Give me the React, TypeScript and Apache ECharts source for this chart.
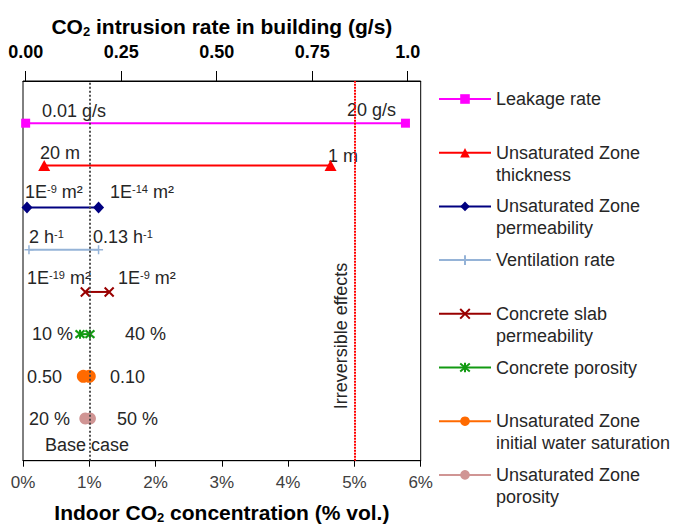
import React, { useEffect, useRef } from 'react';
import * as echarts from 'echarts';

const FONT = 'Liberation Sans, Arial, sans-serif';

// ---- data ----
const parameters = [
  'Leakage rate',
  'Unsaturated Zone\nthickness',
  'Unsaturated Zone\npermeability',
  'Ventilation rate',
  'Concrete slab\npermeability',
  'Concrete porosity',
  'Unsaturated Zone\ninitial water saturation',
  'Unsaturated Zone\nporosity',
];
const rowPositions = [8, 7, 6, 5, 4, 3, 2, 1];
const lowEndConcentration = [0.04, 0.32, 0.06, 0.09, 0.94, 0.86, 0.91, 0.94];
const highEndConcentration = [5.77, 4.64, 1.14, 1.14, 1.3, 1.01, 1.0, 1.01];
const lowEndLabels = ['0.01 g/s', '20 m', '1E{s|-9} m²', '2 h{s|-1}', '1E{s|-19} m²', '10 %', '0.50', '20 %'];
const highEndLabels = ['20 g/s', '1 m', '1E{s|-14} m²', '0.13 h{s|-1}', '1E{s|-9} m²', '40 %', '0.10', '50 %'];
const baseCaseConcentration = 1;
const irreversibleThreshold = 5;
const topTickValues = [0, 0.25, 0.5, 0.75, 1];
const topTickLabels = ['0.00', '0.25', '0.50', '0.75', '1.0'];

// ---- styles / layout ----
const seriesStyles = [
  { color: '#FF00FF', symbol: 'rect', size: 9, stroke: 0 },
  { color: '#FF0000', symbol: 'triangle', size: [12, 11], stroke: 0 },
  { color: '#000080', symbol: 'diamond', size: [11, 12], stroke: 0 },
  { color: '#95B3D7', symbol: 'path://M5,0L5,10M0,5L10,5', size: 9, stroke: 1.5 },
  { color: '#990000', symbol: 'path://M0,0L10,10M10,0L0,10', size: 9, stroke: 2 },
  { color: '#129A12', symbol: 'path://M0,0L10,10M10,0L0,10M5,-1L5,11', size: 9, stroke: 2 },
  { color: '#FF6A00', symbol: 'circle', size: 13, stroke: 0 },
  { color: '#D09594', symbol: 'circle', size: 12, stroke: 0 },
];
// pixel anchors (left x, centre y) of the annotation texts
const lowLabelPos = [[42, 111], [40, 153], [25, 192], [29, 237], [27, 278], [32, 334], [27, 377], [29, 419]];
const highLabelPos = [[347, 110], [328, 156], [110, 192], [93, 237], [118, 278], [125, 334], [110, 377], [117, 419]];

const TEXT_COLOR = '#262626';

function annotation(text: string, x: number, y: number) {
  return {
    type: 'text',
    x,
    y,
    silent: true,
    style: {
      text,
      fill: TEXT_COLOR,
      fontSize: 18,
      fontFamily: FONT,
      align: 'left',
      verticalAlign: 'middle',
      rich: {
        s: { fontSize: 11, fontFamily: FONT, fill: TEXT_COLOR, verticalAlign: 'top' },
      },
    },
  };
}

const titleRich = {
  t: { fontSize: 21, fontWeight: 'bold', color: '#000', fontFamily: FONT, lineHeight: 23 },
  sub: { fontSize: 13, fontWeight: 'bold', color: '#000', fontFamily: FONT, verticalAlign: 'bottom' },
};

export default function App() {
  const ref = useRef<HTMLDivElement>(null);

  useEffect(() => {
    if (!ref.current) return;
    const chart = echarts.init(ref.current, null, { renderer: 'svg' });

    const series: any[] = parameters.map((name, i) => {
      const st = seriesStyles[i];
      return {
        type: 'line',
        name,
        xAxisIndex: 0,
        yAxisIndex: 0,
        data: [
          [lowEndConcentration[i], rowPositions[i]],
          [highEndConcentration[i], rowPositions[i]],
        ],
        symbol: st.symbol,
        symbolSize: st.size,
        showSymbol: true,
        clip: false,
        silent: true,
        z: 2,
        lineStyle: { color: st.color, width: 2 },
        itemStyle: { color: st.color, borderColor: st.color, borderWidth: st.stroke },
        emphasis: { disabled: true },
      };
    });

    series.push({
      type: 'line',
      name: 'reference lines',
      data: [],
      silent: true,
      markLine: {
        silent: true,
        symbol: ['none', 'none'],
        label: { show: false },
        z: 5,
        data: [
          { xAxis: baseCaseConcentration, lineStyle: { color: '#404040', type: [2, 2], width: 1.8 } },
          { xAxis: irreversibleThreshold, lineStyle: { color: '#FF0000', type: [2, 1], width: 2 } },
        ],
      },
    });

    const graphics: any[] = [];
    parameters.forEach((_, i) => {
      graphics.push(annotation(lowEndLabels[i], lowLabelPos[i][0], lowLabelPos[i][1]));
      graphics.push(annotation(highEndLabels[i], highLabelPos[i][0], highLabelPos[i][1]));
    });
    graphics.push(annotation('Base case', 45, 445));
    graphics.push({
      type: 'text',
      x: 341,
      y: 336,
      rotation: Math.PI / 2,
      silent: true,
      style: {
        text: 'Irreversible effects',
        fill: TEXT_COLOR,
        fontSize: 18,
        fontFamily: FONT,
        align: 'center',
        verticalAlign: 'middle',
      },
    });

    const option: any = {
      animation: false,
      backgroundColor: '#fff',
      grid: {
        left: 23,
        right: 255.3,
        top: 81,
        bottom: 64.3,
        show: true,
        borderColor: '#000',
        borderWidth: 1,
        containLabel: false,
        outerBoundsMode: 'none',
      },
      legend: {
        data: parameters,
        orient: 'vertical',
        left: 438,
        top: 66,
        padding: 0,
        itemWidth: 52,
        itemHeight: 12,
        itemGap: -12.3,
        selectedMode: false,
        // three text lines per item so the icon sits on the first real line
        formatter: (name: string) => (name.indexOf('\n') >= 0 ? ' \n' + name : ' \n' + name + '\n '),
        textStyle: {
          fontSize: 18,
          fontFamily: FONT,
          color: TEXT_COLOR,
          lineHeight: 22,
        },
      },
      xAxis: [
        {
          type: 'value',
          position: 'bottom',
          min: 0,
          max: 6,
          interval: 1,
          axisLine: { show: true, onZero: false, lineStyle: { color: '#000', width: 1 } },
          axisTick: { show: true, inside: false, length: 6, lineStyle: { color: '#000' } },
          axisLabel: { formatter: '{value}%', margin: 13, fontSize: 17, color: '#404040', fontFamily: FONT },
          splitLine: { show: false },
          name: '{t|Indoor CO}{sub|2}{t| concentration (% vol.)}',
          nameLocation: 'middle',
          nameGap: 40,
          nameMoveOverlap: false,
          nameTextStyle: {
            fontSize: 21,
            fontWeight: 'bold',
            color: '#000',
            fontFamily: FONT,
            rich: titleRich,
          },
        },
        {
          type: 'value',
          position: 'top',
          min: -0.00707,
          max: 1.034,
          axisLine: { show: true, onZero: false, lineStyle: { color: '#000', width: 1 } },
          axisTick: { show: true, inside: false, length: 10, customValues: topTickValues, lineStyle: { color: '#000' } },
          axisLabel: {
            customValues: topTickValues,
            formatter: (v: number) => topTickLabels[topTickValues.indexOf(v)] ?? String(v),
            margin: 20,
            fontSize: 18,
            fontWeight: 'bold',
            color: '#000',
            fontFamily: FONT,
          },
          splitLine: { show: false },
          name: '{t|CO}{sub|2}{t| intrusion rate in building (g/s)}',
          nameLocation: 'middle',
          nameGap: 43,
          nameMoveOverlap: false,
          nameTextStyle: {
            fontSize: 21,
            fontWeight: 'bold',
            color: '#000',
            fontFamily: FONT,
            rich: titleRich,
          },
        },
      ],
      yAxis: {
        type: 'value',
        min: 0,
        max: 9,
        show: false,
      },
      series,
      graphic: graphics,
    };

    chart.setOption(option);
    return () => chart.dispose();
  }, []);

  return (
    <div
      ref={ref}
      style={{ position: 'fixed', left: 0, top: 0, width: 676, height: 525 }}
    />
  );
}
